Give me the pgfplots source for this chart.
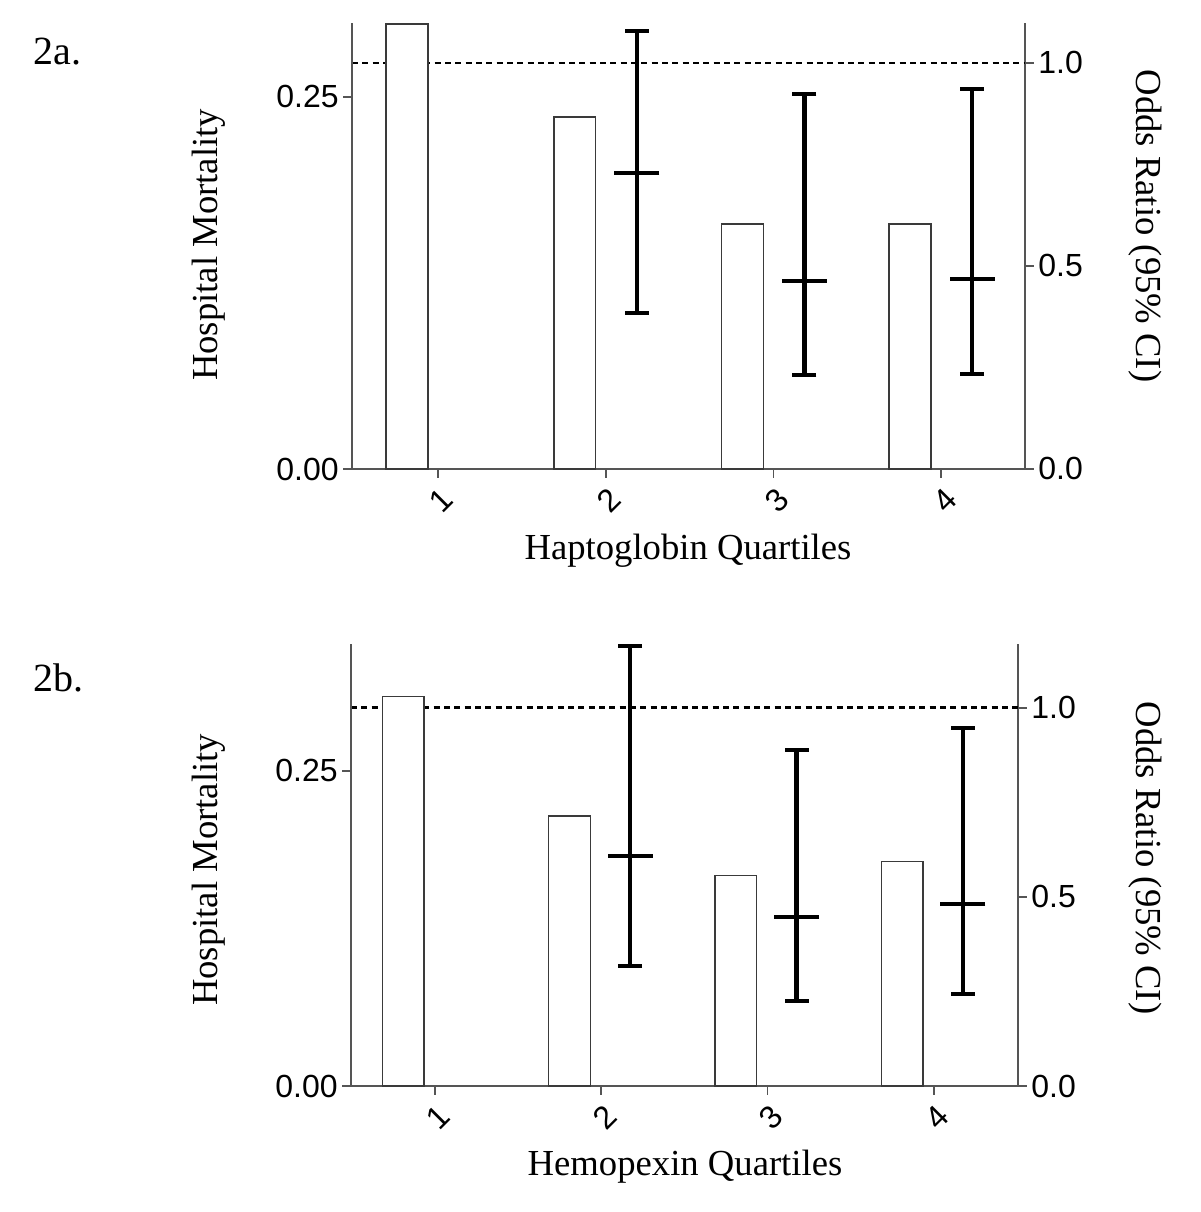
\documentclass[border=0pt]{standalone}
\usepackage{fontspec}
\setmainfont{Liberation Serif}
\setsansfont{Liberation Sans}
\usepackage{pgfplots}
\pgfplotsset{compat=1.18}
\definecolor{axgray}{HTML}{555555}
\definecolor{bargray}{HTML}{3A3A3A}
\pgfplotsset{
  base/.style={scale only axis, anchor=south west, ymin=0, clip=false,
    tick align=outside, major tick length=2.6pt,
    axis line style={axgray, line width=0.5pt, -},
    tick style={axgray, line width=0.5pt},
    ticklabel style={font=\sffamily\fontsize{9.6}{11}\selectfont, inner sep=1.2pt},
    /pgf/number format/assume math mode=true},
  rightax/.style={base, axis x line=none, axis y line*=right,
    ytick={0,0.5,1}, yticklabels={0.0,0.5,1.0}},
  leftax/.style={base, axis x line*=bottom, axis y line*=left,
    ytick={0,0.25}, yticklabels={0.00,0.25},
    xtick={1,2,3,4}, xticklabels={1,2,3,4},
    xticklabel style={rotate=45, anchor=east, xshift=0pt, yshift=-5.5pt}},
  refline/.style={black, line width=0.85pt, dash pattern=on 1.8pt off 1.3pt},
  bars/.style={ybar, bar width=0.25, bar shift=0pt, fill=white, draw=bargray, line width=0.45pt},
  ci/.style={black, line width=1.25pt, unbounded coords=jump},
  caps/.style={only marks, mark=-, mark size=3.6pt, mark options={black, line width=1.25pt}},
  mids/.style={only marks, mark=-, mark size=6.75pt, mark options={black, line width=1.25pt}},
}
\begin{document}
\begin{tikzpicture}
\path[use as bounding box] (0,0) rectangle (360pt,363.6pt);
% ---------------- Panel 2a ----------------
\begin{axis}[rightax, at={(105.6pt,222.9pt)}, width=201.9pt, height=133.8pt,
  xmin=0.487, xmax=4.5, ymax=1.0985]
  \addplot[refline] coordinates {(0.487,1) (4.5,1)};
  \addplot[ci] coordinates {(2.185,0.384) (2.185,1.079) (2.185,nan)
    (3.185,0.232) (3.185,0.924) (3.185,nan) (4.185,0.234) (4.185,0.936)};
  \addplot[caps] coordinates {(2.185,0.384) (2.185,1.079) (3.185,0.232) (3.185,0.924) (4.185,0.234) (4.185,0.936)};
  \addplot[mids] coordinates {(2.185,0.729) (3.185,0.463) (4.185,0.468)};
\end{axis}
\begin{axis}[leftax, at={(105.6pt,222.9pt)}, width=201.9pt, height=133.8pt,
  xmin=0.487, xmax=4.5, ymax=0.2997]
  \addplot[bars] coordinates {(0.815,0.299) (1.815,0.2366) (2.815,0.1647) (3.815,0.1647)};
\end{axis}
% ---------------- Panel 2b ----------------
\begin{axis}[rightax, at={(105.3pt,37.8pt)}, width=200.1pt, height=132.6pt,
  xmin=0.497, xmax=4.506, ymax=1.169]
  \addplot[refline] coordinates {(0.497,1) (4.506,1)};
  \addplot[ci] coordinates {(2.175,0.317) (2.175,1.164) (2.175,nan)
    (3.175,0.225) (3.175,0.889) (3.175,nan) (4.175,0.243) (4.175,0.947)};
  \addplot[caps] coordinates {(2.175,0.317) (2.175,1.164) (3.175,0.225) (3.175,0.889) (4.175,0.243) (4.175,0.947)};
  \addplot[mids] coordinates {(2.175,0.608) (3.175,0.447) (4.175,0.481)};
\end{axis}
\begin{axis}[leftax, at={(105.3pt,37.8pt)}, width=200.1pt, height=132.6pt,
  xmin=0.497, xmax=4.506, ymax=0.3505]
  \addplot[bars] coordinates {(0.81,0.309) (1.81,0.214) (2.81,0.167) (3.81,0.178)};
\end{axis}
% ---------------- Labels ----------------
\node[anchor=base west, font=\fontsize{12}{14}\selectfont, inner sep=0pt] at (9.9pt,344.1pt) {2a.};
\node[anchor=base west, font=\fontsize{12}{14}\selectfont, inner sep=0pt] at (9.9pt,156pt) {2b.};
\node[rotate=90, font=\fontsize{11}{13}\selectfont] at (62.7pt,290.1pt) {Hospital Mortality};
\node[rotate=90, font=\fontsize{11}{13}\selectfont] at (62.7pt,102.6pt) {Hospital Mortality};
\node[rotate=-90, font=\fontsize{11}{13}\selectfont] at (343.5pt,295.8pt) {Odds Ratio (95\% CI)};
\node[rotate=-90, font=\fontsize{11}{13}\selectfont] at (343.5pt,106.2pt) {Odds Ratio (95\% CI)};
\node[anchor=base, font=\fontsize{11}{13}\selectfont, inner sep=0pt] at (206.4pt,195.6pt) {Haptoglobin Quartiles};
\node[anchor=base, font=\fontsize{11}{13}\selectfont, inner sep=0pt] at (205.5pt,10.8pt) {Hemopexin Quartiles};
\end{tikzpicture}
\end{document}
